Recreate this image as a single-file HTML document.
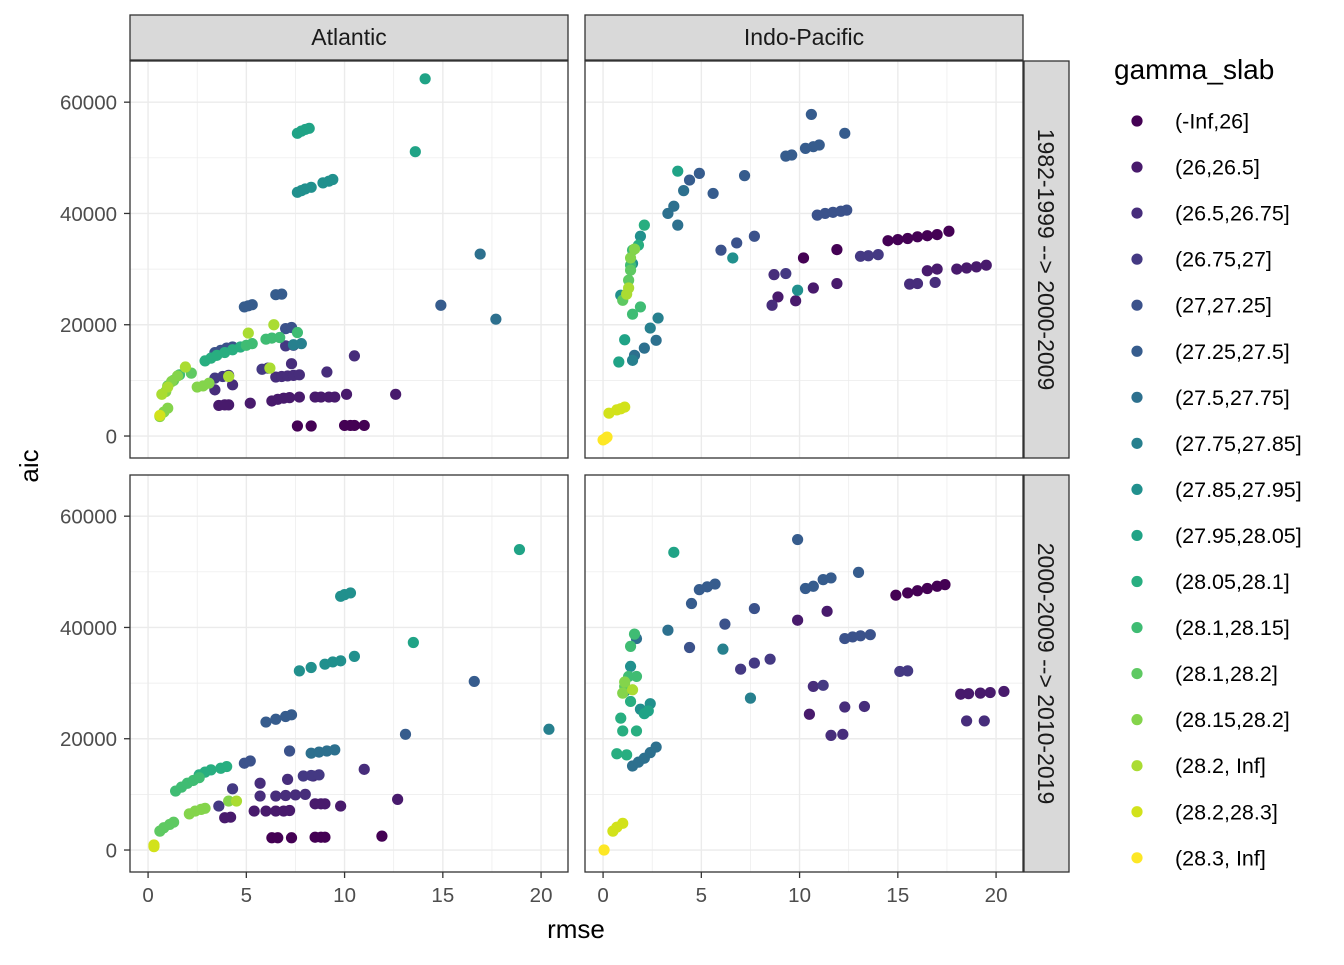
<!DOCTYPE html>
<html><head><meta charset="utf-8">
<style>
body{margin:0;background:#fff;font-family:"Liberation Sans",sans-serif;}
svg text{font-family:"Liberation Sans",sans-serif;}
</style></head>
<body>
<svg id="chart" width="1344" height="960" viewBox="0 0 1344 960" xmlns="http://www.w3.org/2000/svg"></svg>
<script>
// ---- data (x = rmse, y = aic in thousands, c = gamma_slab class index) ----
const levels = ["(-Inf,26]","(26,26.5]","(26.5,26.75]","(26.75,27]","(27,27.25]","(27.25,27.5]","(27.5,27.75]","(27.75,27.85]","(27.85,27.95]","(27.95,28.05]","(28.05,28.1]","(28.1,28.15]","(28.1,28.2]","(28.15,28.2]","(28.2, Inf]","(28.2,28.3]","(28.3, Inf]"];
const palette = ["#440154","#481a6c","#472d7b","#443983","#3b528b","#365c8d","#2d708e","#27808e","#21908d","#20a386","#28ae80","#3fbc73","#5ec962","#84d44b","#aadc32","#d2e21b","#fde725"];
const xTicks = [0,5,10,15,20];
const yTicks = [0,20000,40000,60000];
const colFacets = ["Atlantic","Indo-Pacific"];
const rowFacets = ["1982-1999 --> 2000-2009","2000-2009 --> 2010-2019"];

const atl1 = [[7.6,1.8,0],[8.3,1.8,0],[10.0,1.9,0],[10.3,1.9,0],[10.5,1.9,0],[11.0,1.9,0],
[12.6,7.5,1],[10.1,7.5,1],[8.5,7,1],[8.8,7,1],[9.2,7,1],[9.5,7,1],[6.3,6.3,1],[6.6,6.6,1],[6.9,6.8,1],[7.2,6.9,1],[7.7,7,1],[5.2,5.9,1],[3.6,5.5,1],[3.9,5.6,1],[4.1,5.6,1],
[10.5,14.4,2],[9.1,11.5,2],[6.5,10.6,2],[6.8,10.7,2],[7.1,10.8,2],[7.4,10.9,2],[7.7,11,2],[7.3,13,2],[4.3,9.2,2],[3.4,8.3,2],
[3.4,10.4,3],[3.8,10.7,3],[4.1,10.9,3],[5.8,12,3],[6.1,12.2,3],[7.0,16.2,3],[7.4,16.3,3],
[7.0,19.3,4],[7.3,19.5,4],[3.4,15,4],[3.7,15.4,4],[4.0,15.8,4],[4.3,16,4],
[4.9,23.2,5],[5.1,23.4,5],[5.3,23.6,5],[6.5,25.4,5],[6.8,25.5,5],[14.9,23.5,5],
[16.9,32.7,6],[17.7,21,6],[7.4,16.4,7],[7.8,16.6,7],
[7.6,43.8,8],[7.8,44.1,8],[8.0,44.4,8],[8.3,44.7,8],[8.9,45.5,8],[9.2,45.8,8],[9.4,46.1,8],
[7.6,54.4,9],[7.8,54.8,9],[8.0,55.1,9],[8.2,55.3,9],[13.6,51.1,9],[14.1,64.2,9],
[2.9,13.5,10],[3.2,14,10],[3.5,14.5,10],[3.9,15,10],[4.3,15.5,10],[4.7,16,10],
[5.0,16.3,11],[5.3,16.6,11],[6.0,17.4,11],[6.3,17.6,11],[6.7,17.7,11],[7.6,18.6,11],[1.6,11,11],
[2.2,11.3,12],[1.3,10,12],[1.0,9,12],
[0.6,3.5,13],[0.8,4.3,13],[1.0,5,13],[1.2,9.8,13],[1.5,10.8,13],[0.9,8,13],[2.5,8.8,13],[2.8,9,13],[3.1,9.5,13],
[5.1,18.5,14],[6.4,20,14],[4.1,10.7,14],[6.2,12.2,14],[1.9,12.4,14],[0.7,7.5,14],[1.0,8.8,14],
[0.6,3.7,15]];
const ind1 = [[14.5,35.1,0],[15,35.3,0],[15.5,35.5,0],[16,35.8,0],[16.5,36,0],[17,36.2,0],[17.6,36.8,0],[10.2,32,0],[11.9,33.5,0],
[18,30,1],[18.5,30.2,1],[19,30.4,1],[19.5,30.7,1],[16.5,29.7,1],[17,30,1],[10.7,26.6,1],[11.9,27.4,1],[8.9,25,1],[9.8,24.3,1],
[15.6,27.3,2],[16.0,27.4,2],[16.9,27.6,2],[8.6,23.5,2],[8.7,29,2],
[9.3,29.2,3],[13.1,32.3,3],[13.5,32.4,3],[14,32.6,3],
[10.9,39.7,4],[11.3,40,4],[11.7,40.2,4],[12.1,40.4,4],[12.4,40.6,4],[7.7,35.9,4],[6.8,34.7,4],[6.0,33.4,4],
[9.3,50.3,5],[9.6,50.5,5],[10.3,51.7,5],[10.7,52,5],[11.0,52.3,5],[10.6,57.8,5],[12.3,54.4,5],[7.2,46.8,5],[5.6,43.6,5],[4.4,46,5],[4.9,47.2,5],
[3.8,37.9,6],[3.6,41.3,6],[3.3,40,6],[4.1,44.1,6],[2.7,17.2,6],[2.1,15.8,6],[1.6,14.5,6],
[1.5,13.6,7],[2.4,19.4,7],[2.8,21.2,7],
[1.9,35.9,8],[1.5,31,8],[0.9,25.3,8],[6.6,32,8],[9.9,26.2,8],
[3.8,47.6,9],[1.1,17.3,9],[0.8,13.3,9],
[2.1,37.9,10],[1.8,34.3,10],
[1.4,30.7,11],[1.5,33.4,11],[1.5,21.9,11],[1.9,23.2,11],
[1.4,29.8,12],[1.3,28,12],[1.0,24.4,12],
[1.4,32,13],[1.6,33.6,13],[1.3,26.6,14],[1.2,25.5,14],
[0.3,4.1,15],[0.7,4.7,15],[1.1,5.2,15],[0.9,4.9,15],
[0,-0.7,16],[0.2,-0.2,16],[0.1,-0.5,16]];
const atl2 = [[6.3,2.2,0],[6.6,2.2,0],[7.3,2.2,0],[8.5,2.3,0],[8.8,2.3,0],[9.0,2.3,0],[11.9,2.5,0],
[12.7,9.1,1],[9.8,7.9,1],[8.5,8.3,1],[8.8,8.3,1],[9.0,8.3,1],[5.4,7,1],[6.0,7,1],[6.5,7,1],[6.9,7,1],[7.2,7.1,1],[4.2,5.9,1],[3.9,5.8,1],
[11,14.5,2],[6.5,9.7,2],[7.0,9.8,2],[7.5,9.9,2],[8.0,10,2],[5.7,9.7,2],[8.4,13.3,2],[7.1,12.7,2],[5.7,12,2],
[4.3,11,3],[3.6,7.9,3],[7.9,13.3,3],[8.3,13.4,3],[8.7,13.5,3],
[7.2,17.8,4],[4.9,15.6,4],[5.2,16,4],
[6.0,23,5],[6.5,23.5,5],[7.0,24,5],[7.3,24.3,5],[13.1,20.8,5],[16.6,30.3,5],
[8.3,17.4,6],[8.7,17.6,6],[9.1,17.8,6],[9.5,18,6],
[20.4,21.7,7],
[9.8,45.6,8],[10.0,45.9,8],[10.3,46.2,8],[7.7,32.2,8],[8.3,32.8,8],[9.0,33.4,8],[9.4,33.8,8],[9.8,34,8],[10.5,34.8,8],
[18.9,54,9],[13.5,37.3,9],
[2.6,13.5,10],[2.9,14,10],[3.2,14.4,10],[3.7,14.7,10],[4.0,15,10],
[1.4,10.6,11],[1.7,11.3,11],[2.0,12,11],[2.3,12.5,11],[2.6,13,11],
[0.6,3.4,12],[0.8,4,12],[1.1,4.6,12],[1.3,5,12],
[2.1,6.5,13],[2.4,7,13],[2.7,7.3,13],[2.9,7.5,13],[4.1,8.8,13],
[4.5,8.8,14],[0.3,0.6,15],[0.3,0.9,15]];
const ind2 = [[14.9,45.8,0],[15.5,46.2,0],[16.0,46.6,0],[16.5,47,0],[17.0,47.4,0],[17.4,47.7,0],
[9.9,41.3,1],[11.4,42.9,1],[18.2,28,1],[18.6,28.1,1],[19.2,28.2,1],[19.7,28.3,1],[20.4,28.5,1],[10.5,24.4,1],
[18.5,23.2,2],[19.4,23.2,2],[12.3,25.7,2],[13.3,25.8,2],[10.7,29.4,2],[11.6,20.6,2],[12.2,20.8,2],
[11.2,29.6,3],[7.0,32.5,3],[7.7,33.6,3],[8.5,34.3,3],[15.1,32.1,3],[15.5,32.2,3],
[12.3,38,4],[12.7,38.3,4],[13.1,38.5,4],[13.6,38.7,4],[7.7,43.4,4],[6.2,40.6,4],[4.4,36.4,4],
[10.3,47,5],[10.7,47.4,5],[11.2,48.6,5],[11.6,48.9,5],[13.0,49.9,5],[9.9,55.8,5],[4.9,46.8,5],[5.3,47.3,5],[5.7,47.8,5],[4.5,44.3,5],
[3.3,39.5,6],[1.7,38,6],[1.5,15.1,6],[1.8,15.8,6],[2.1,16.5,6],[2.4,17.5,6],[2.7,18.5,6],
[6.1,36.1,7],[7.5,27.3,7],
[1.4,33,8],[1.1,28.5,8],[1.9,25.3,8],[2.4,26.3,8],
[3.6,53.5,9],[2.1,24.5,9],[2.3,25,9],
[1.4,26.7,10],[0.9,23.7,10],[1.0,21.4,10],[1.7,21.4,10],[1.2,17.1,10],[0.7,17.3,10],
[1.4,36.6,11],[1.6,38.8,11],[1.3,31.2,11],[1.7,31.2,11],
[1.1,29.4,12],[1.0,28.2,13],[1.1,30.2,13],[1.5,28.8,14],
[0.5,3.4,15],[0.7,4.1,15],[1.0,4.8,15],
[0.05,0,16]];

const NS="http://www.w3.org/2000/svg";
const svg=document.getElementById('chart');
function mk(tag,attrs,parent){const e=document.createElementNS(NS,tag);for(const k in attrs)e.setAttribute(k,attrs[k]);(parent||svg).appendChild(e);return e;}

const colX=[130,585], rowY=[61,475], PW=438, PH=397;
const xMin=-0.92, xMax=21.37, yMin=-3950, yMax=67400;
function sx(c,v){return colX[c]+(v-xMin)/(xMax-xMin)*PW;}
function sy(r,v){return rowY[r]+PH-(v-yMin)/(yMax-yMin)*PH;}

const panels=[[0,0,atl1],[0,1,ind1],[1,0,atl2],[1,1,ind2]];
panels.forEach(([r,c,data])=>{
  const g=mk('g',{});
  
  
  mk('rect',{x:colX[c],y:rowY[r],width:PW,height:PH,fill:'#fff'},g);
  [2.5,7.5,12.5,17.5].forEach(v=>mk('line',{x1:sx(c,v),x2:sx(c,v),y1:rowY[r],y2:rowY[r]+PH,stroke:'#ebebeb','stroke-width':0.7},g));
  [10000,30000,50000].forEach(v=>mk('line',{x1:colX[c],x2:colX[c]+PW,y1:sy(r,v),y2:sy(r,v),stroke:'#ebebeb','stroke-width':0.7},g));
  xTicks.forEach(v=>mk('line',{x1:sx(c,v),x2:sx(c,v),y1:rowY[r],y2:rowY[r]+PH,stroke:'#ebebeb','stroke-width':1.4},g));
  yTicks.forEach(v=>mk('line',{x1:colX[c],x2:colX[c]+PW,y1:sy(r,v),y2:sy(r,v),stroke:'#ebebeb','stroke-width':1.4},g));
  data.forEach(p=>{
    const pt=mk('circle',{cx:sx(c,p[0]),cy:sy(r,p[1]*1000),r:5.6,fill:palette[p[2]]},g);
    
    
  });
  mk('rect',{x:colX[c],y:rowY[r],width:PW,height:PH,fill:'none',stroke:'#333','stroke-width':1.3},g);
});
colFacets.forEach((f,c)=>{
  const s=mk('rect',{x:colX[c],y:15,width:PW,height:45,fill:'#d9d9d9',stroke:'#333','stroke-width':1.3});
  
  
  const t=mk('text',{x:colX[c]+PW/2,y:45,'text-anchor':'middle','font-size':23,fill:'#1a1a1a'});
  t.textContent=f;
});
rowFacets.forEach((f,r)=>{
  const s=mk('rect',{x:1024,y:rowY[r],width:45,height:PH,fill:'#d9d9d9',stroke:'#333','stroke-width':1.3});
  
  
  const cx=1046,cy=rowY[r]+PH/2;
  const t=mk('text',{x:cx,y:cy,'text-anchor':'middle','dominant-baseline':'central','font-size':23,fill:'#1a1a1a',transform:`rotate(90 ${cx} ${cy})`});
  t.textContent=f;
});
[0,1].forEach(r=>{
  yTicks.forEach(v=>{
    mk('line',{x1:124,x2:130,y1:sy(r,v),y2:sy(r,v),stroke:'#333','stroke-width':1.3});
    const t=mk('text',{x:117,y:sy(r,v)+7.5,'text-anchor':'end','font-size':20.5,fill:'#4d4d4d'});
    
    
    t.textContent=v;
  });
});
[0,1].forEach(c=>{
  xTicks.forEach(v=>{
    mk('line',{x1:sx(c,v),x2:sx(c,v),y1:872,y2:878,stroke:'#333','stroke-width':1.3});
    const t=mk('text',{x:sx(c,v),y:902,'text-anchor':'middle','font-size':20.5,fill:'#4d4d4d'});
    
    
    t.textContent=v;
  });
});
const xt=mk('text',{x:576,y:938,'text-anchor':'middle','font-size':26,fill:'#000'});


xt.textContent='rmse';
const yt=mk('text',{x:38,y:466,'text-anchor':'middle','font-size':26,fill:'#000',transform:'rotate(-90 38 466)'});


yt.textContent='aic';
const lt=mk('text',{x:1114,y:79,'font-size':28,fill:'#000'});


lt.textContent='gamma_slab';
levels.forEach((l,i)=>{
  const y=121+i*46.05;
  const g=mk('g',{});
  
  
  mk('circle',{cx:1137,cy:y,r:5.6,fill:palette[i]},g);
  const t=mk('text',{x:1175,y:y+7.5,'font-size':21.5,fill:'#000'},g);
  t.textContent=l;
});
</script>
</body></html>
